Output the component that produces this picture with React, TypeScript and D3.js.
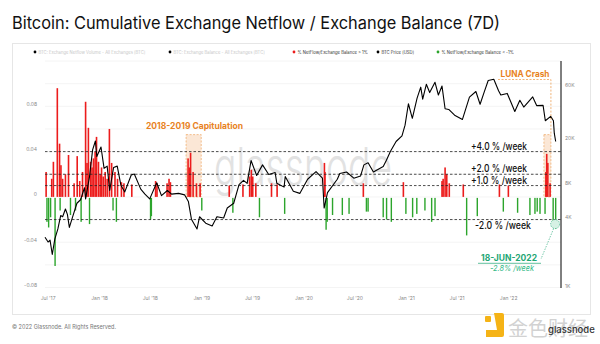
import React from 'react';
import * as d3 from 'd3';

const W = 600, H = 344;

const leftTicks = [-0.08, -0.04, 0, 0.04, 0.08];
const leftTickLabels = ['-0.08', '-0.04', '0', '0.04', '0.08'];
const gridValues = [-0.08, -0.06, -0.04, -0.02, 0, 0.02, 0.04, 0.06, 0.08, 0.1, 0.12];
const rightTicks = [1000, 4000, 8000, 20000, 60000];
const rightTickLabels = ['1K', '4K', '8K', '20K', '60K'];
const xTickDates = ['2017-07-01', '2018-01-01', '2018-07-01', '2019-01-01', '2019-07-01', '2020-01-01', '2020-07-01', '2021-01-01', '2021-07-01', '2022-01-01'];
const xTickLabels = ["Jul '17", "Jan '18", "Jul '18", "Jan '19", "Jul '19", "Jan '20", "Jul '20", "Jan '21", "Jul '21", "Jan '22"];

const thresholds = [0.04, 0.02, 0.01, -0.02];
const thresholdLabels = ['+4.0 % /week', '+2.0 % /week', '+1.0 % /week', '-2.0 % /week'];

const redDates = [
  '2017-06-24', '2017-07-14', '2017-07-20', '2017-08-03', '2017-08-11', '2017-08-16', '2017-08-22', '2017-09-01', '2017-09-12',
  '2017-10-02', '2017-10-13', '2017-10-22', '2017-11-01', '2017-11-12', '2017-11-17', '2017-11-22', '2017-11-30', '2017-12-05', '2017-12-10',
  '2017-12-16', '2017-12-21', '2017-12-28', '2018-01-03', '2018-01-08', '2018-01-14', '2018-01-21', '2018-01-28', '2018-02-05', '2018-02-13',
  '2018-02-25', '2018-03-06', '2018-03-20', '2018-03-29', '2018-04-26', '2018-07-20', '2018-07-25', '2018-08-30', '2018-09-06', '2018-09-11',
  '2018-11-13', '2018-11-18', '2018-11-22', '2018-12-01', '2018-12-13', '2018-12-26',
  '2019-04-09', '2019-05-28', '2019-06-21', '2019-06-27', '2019-07-02', '2019-07-13', '2019-09-07', '2019-09-27',
  '2020-03-14', '2020-03-16', '2020-07-31', '2020-12-21',
  '2021-05-08', '2021-05-12', '2021-05-19', '2021-05-25', '2021-06-03', '2021-07-23', '2021-11-29', '2021-12-31',
  '2022-05-14', '2022-05-17', '2022-05-21', '2022-05-29',
];
const redValues = [
  0.022, 0.016, 0.031, 0.096, 0.047, 0.028, 0.016, 0.02, 0.037,
  0.012, 0.036, 0.014, 0.022, 0.084, 0.03, 0.061, 0.031, 0.026, 0.034,
  0.04, 0.053, 0.031, 0.02, 0.026, 0.018, 0.022, 0.016, 0.06, 0.03,
  0.022, 0.016, 0.013, 0.012, 0.011, 0.014, 0.012, 0.012, 0.016, 0.013,
  0.034, 0.026, 0.039, 0.022, 0.012, 0.012,
  0.01, 0.011, 0.018, 0.024, 0.018, 0.012, 0.012, 0.011,
  0.03, 0.022, 0.012, 0.013,
  0.014, 0.016, 0.026, 0.02, 0.012, 0.011, 0.011, 0.01,
  0.022, 0.038, 0.03, 0.012,
];

const greenDates = [
  '2017-06-27', '2017-07-03', '2017-07-10', '2017-07-26', '2017-08-13', '2017-09-19', '2017-10-07', '2017-10-27', '2017-11-26',
  '2018-02-18', '2018-03-02', '2018-07-02', '2018-07-05', '2019-01-01',
  '2019-04-22', '2019-07-26', '2019-10-24', '2020-03-20', '2020-03-24', '2020-04-12', '2020-05-17', '2020-06-10', '2020-08-11', '2020-08-17',
  '2020-10-10', '2020-10-22', '2020-11-08', '2020-12-30', '2021-01-23', '2021-02-07', '2021-03-08', '2021-04-01', '2021-04-13',
  '2021-08-04', '2021-09-11', '2021-12-13', '2022-02-02', '2022-03-18', '2022-04-05', '2022-04-13', '2022-04-23', '2022-05-11',
  '2022-06-09', '2022-06-18',
];
const greenValues = [
  -0.022, -0.027, -0.018, -0.061, -0.012, -0.016, -0.012, -0.022, -0.024,
  -0.012, -0.022, -0.02, -0.017, -0.012,
  -0.014, -0.018, -0.015, -0.029, -0.022, -0.016, -0.016, -0.015, -0.013, -0.013,
  -0.018, -0.02, -0.022, -0.015, -0.018, -0.015, -0.012, -0.022, -0.017,
  -0.034, -0.017, -0.013, -0.014, -0.016, -0.015, -0.013, -0.015, -0.015,
  -0.022, -0.028,
];

const priceDates = [
  '2017-06-20', '2017-07-01', '2017-07-08', '2017-07-16', '2017-07-25', '2017-08-05', '2017-08-15', '2017-08-22', '2017-09-01', '2017-09-08', '2017-09-15',
  '2017-09-30', '2017-10-12', '2017-10-25', '2017-11-08', '2017-11-12', '2017-11-26', '2017-12-07', '2017-12-17', '2017-12-22', '2018-01-06',
  '2018-01-17', '2018-01-28', '2018-02-06', '2018-02-20', '2018-03-05', '2018-03-18', '2018-04-01', '2018-04-24', '2018-05-05', '2018-05-28',
  '2018-06-12', '2018-06-29', '2018-07-24', '2018-08-10', '2018-08-31', '2018-09-15', '2018-10-10', '2018-11-01', '2018-11-14', '2018-11-25',
  '2018-12-15', '2018-12-24', '2019-01-15', '2019-02-07', '2019-02-24', '2019-03-20', '2019-04-02', '2019-04-25', '2019-05-14', '2019-05-30',
  '2019-06-12', '2019-06-26', '2019-07-16', '2019-08-06', '2019-08-28', '2019-09-20', '2019-09-26', '2019-10-22', '2019-10-26', '2019-11-24',
  '2019-12-17', '2020-01-14', '2020-02-13', '2020-03-07', '2020-03-13', '2020-03-25', '2020-04-29', '2020-05-08', '2020-06-01', '2020-06-27',
  '2020-07-21', '2020-08-02', '2020-08-17', '2020-09-05', '2020-10-10', '2020-10-21', '2020-11-05', '2020-11-25', '2020-12-16', '2020-12-27',
  '2021-01-08', '2021-01-22', '2021-02-08', '2021-02-21', '2021-02-28', '2021-03-13', '2021-03-25', '2021-04-13', '2021-04-25', '2021-05-08',
  '2021-05-19', '2021-06-01', '2021-06-22', '2021-07-20', '2021-08-14', '2021-09-06', '2021-09-21', '2021-10-05', '2021-10-20', '2021-11-09',
  '2021-11-26', '2021-12-04', '2021-12-27', '2022-01-10', '2022-01-23', '2022-02-10', '2022-02-24', '2022-03-28', '2022-04-11', '2022-05-04',
  '2022-05-12', '2022-05-31', '2022-06-10', '2022-06-13', '2022-06-18',
];
const priceValues = [
  2700, 2450, 2550, 1900, 2600, 3200, 4200, 4100, 4800, 4300, 3300,
  4350, 5400, 5800, 7400, 5900, 9300, 16000, 19200, 14000, 17000,
  11000, 11500, 7000, 11200, 11500, 7800, 6800, 9600, 9800, 7200,
  6500, 5900, 8200, 6300, 7000, 6500, 6600, 6400, 5600, 3900,
  3200, 4100, 3600, 3400, 4100, 4000, 4900, 5400, 7900, 8600,
  8100, 12900, 9500, 11800, 9700, 10100, 8100, 7500, 9300, 6900,
  6600, 8800, 10300, 9000, 4900, 6700, 8800, 9900, 10200, 9000,
  9400, 11800, 12300, 10200, 11400, 12900, 15600, 19000, 21300, 26500,
  41000, 30500, 46000, 57500, 45000, 61000, 51500, 63500, 49000, 58800,
  37000, 36500, 32500, 29800, 47000, 52600, 40600, 51500, 65900, 67500,
  53500, 49000, 50600, 41800, 35000, 44000, 38300, 47100, 39500, 39700,
  29000, 31700, 29000, 22500, 19000,
];

const legendLabels = [
  'BTC: Exchange Netflow Volume - All Exchanges [BTC]',
  'BTC: Exchange Balance - All Exchanges [BTC]',
  '% NetFlow/Exchange Balance > 1%',
  'BTC Price [USD]',
  '% NetFlow/Exchange Balance < -1%',
];

const FONT = "Inter, 'Noto Sans', sans-serif";
const RED = '#ec1c1c';
const GREEN = '#2ca52c';
const ORANGE = '#e8821e';
const TEAL = '#1ea674';

export default function App() {
  const pd = (s: string) => new Date(s + 'T00:00:00Z');
  const x = d3.scaleUtc().domain([pd('2017-06-20'), pd('2022-07-07')]).range([45, 561]);
  const yL = d3.scaleLinear().domain([-0.08, 0.12]).range([287.5, 61]);
  const yR = d3.scaleLog().domain([1000, 100000]).range([286, 60]);
  const y0 = yL(0);

  const priceData = priceDates.map((d, i) => ({ date: pd(d), v: priceValues[i] }));
  const priceLine = d3.line<{ date: Date; v: number }>().x(d => x(d.date)).y(d => yR(d.v))(priceData) || '';

  const redBars = redDates.map((d, i) => ({ date: pd(d), v: redValues[i] }));
  const greenBars = greenDates.map((d, i) => ({ date: pd(d), v: greenValues[i] }));

  const capX0 = x(pd('2018-11-06')), capX1 = x(pd('2018-12-30'));
  const lunaX0 = x(pd('2022-05-07')), lunaX1 = x(pd('2022-06-01'));
  const circX = x(pd('2022-06-16')), circY = yL(-0.024);

  const legendX = [35, 170, 294, 378, 438];
  const legendColors = ['#000', '#000', RED, '#000', GREEN];
  const legendText = ['#c8c8c8', '#c8c8c8', '#333', '#333', '#333'];

  return (
    <svg width={W} height={H} style={{ position: 'absolute', left: 0, top: 0, background: '#fff' }} fontFamily={FONT}>
      <rect x={0} y={0} width={W} height={H} fill="#fff" />
      <text x={12} y={29} fontSize={17} fill="#111" textLength={488} lengthAdjust="spacingAndGlyphs">Bitcoin: Cumulative Exchange Netflow / Exchange Balance (7D)</text>
      <rect x={12.5} y={43.5} width={578} height={271} fill="none" stroke="#e6e6e6" strokeWidth={1} />

      {legendLabels.map((l, i) => (
        <g key={l}>
          <circle cx={legendX[i]} cy={52} r={1.4} fill={legendColors[i]} />
          <text x={legendX[i] + 3.5} y={53.5} fontSize={4.2} fill={legendText[i]}>{l}</text>
        </g>
      ))}

      {gridValues.map(v => (
        <line key={v} x1={45} x2={561} y1={yL(v)} y2={yL(v)} stroke="#f1f1f1" strokeWidth={0.8} />
      ))}

      <text x={303} y={185} fontSize={52} fill="#e2e2e2" textAnchor="middle" textLength={178} lengthAdjust="spacingAndGlyphs" fontWeight={300}>glassnode</text>

      <rect x={capX0} y={yL(0.055)} width={capX1 - capX0} height={y0 - yL(0.055)} fill="#fbe2cd" opacity={0.8} stroke={ORANGE} strokeWidth={0.6} strokeDasharray="2,1.5" />
      <rect x={lunaX0} y={yL(0.055)} width={lunaX1 - lunaX0} height={y0 - yL(0.055)} fill="#fbe2cd" opacity={0.8} stroke={ORANGE} strokeWidth={0.6} strokeDasharray="2,1.5" />

      {redBars.map((b, i) => (
        <rect key={'r' + i} x={x(b.date) - 0.8} y={yL(b.v)} width={1.6} height={y0 - yL(b.v)} fill={RED} />
      ))}
      {greenBars.map((b, i) => (
        <rect key={'g' + i} x={x(b.date) - 0.7} y={y0 + 1} width={1.4} height={yL(b.v) - y0 - 1} fill={GREEN} />
      ))}

      {thresholds.map(t => (
        <line key={t} x1={45} x2={561} y1={yL(t)} y2={yL(t)} stroke="#222" strokeWidth={0.8} strokeDasharray="2.5,2" />
      ))}

      <path d={priceLine} fill="none" stroke="#000" strokeWidth={1.1} strokeLinejoin="round" />

      <line x1={561} x2={561} y1={61} y2={288} stroke="#000" strokeWidth={1} />

      {leftTicks.map((t, i) => (
        <text key={t} x={37} y={yL(t) - 0.5} fontSize={5} fill="#888" textAnchor="end">{leftTickLabels[i]}</text>
      ))}
      {rightTicks.map((t, i) => (
        <text key={t} x={565} y={yR(t) + 1.5} fontSize={5} fill="#888">{rightTickLabels[i]}</text>
      ))}
      {xTickDates.map((d, i) => (
        <text key={d} x={x(pd(d))} y={300} fontSize={5} fill="#888" textAnchor="middle">{xTickLabels[i]}</text>
      ))}

      {thresholds.map((t, i) => (
        <text key={'tl' + t} x={t < 0 ? 475 : 471} y={t < 0 ? yL(t) + 9 : yL(t) - 2} fontSize={10} fill="#111" fontWeight={500} textLength={56} lengthAdjust="spacingAndGlyphs">{thresholdLabels[i]}</text>
      ))}

      <text x={146} y={129} fontSize={9} fontWeight={700} fill={ORANGE} textLength={97} lengthAdjust="spacingAndGlyphs">2018-2019 Capitulation</text>
      <text x={500.5} y={77} fontSize={9} fontWeight={700} fill={ORANGE} textLength={49} lengthAdjust="spacingAndGlyphs">LUNA Crash</text>
      <path d={`M${498},${79.5} H${lunaX1} V${yL(0.055)}`} fill="none" stroke={ORANGE} strokeWidth={0.6} strokeDasharray="2,1.5" />

      <circle cx={circX} cy={circY} r={4.5} fill="#d6f1e4" stroke={TEAL} strokeWidth={0.6} strokeDasharray="1.5,1.2" />
      <line x1={circX - 1.5} y1={circY + 4.5} x2={541} y2={259} stroke={TEAL} strokeWidth={0.6} strokeDasharray="1.5,1.2" />
      <text x={481} y={260.5} fontSize={8.5} fontWeight={700} fill={TEAL} textLength={56} lengthAdjust="spacingAndGlyphs">18-JUN-2022</text>
      <line x1={478} x2={541} y1={263.3} y2={263.3} stroke={TEAL} strokeWidth={0.7} />
      <text x={490} y={271} fontSize={8} fontStyle="italic" fill="#2fb885" textLength={44} lengthAdjust="spacingAndGlyphs">-2.8% /week</text>

      <text x={12} y={329} fontSize={5.5} fill="#777">© 2022 Glassnode. All Rights Reserved.</text>

      <rect x={485} y={316} width={6} height={6} rx={1} fill="#f5b316" />
      <path d="M494,313 h8 a2,2 0 0 1 2,2 v20 a2,2 0 0 1 -2,2 h-16 v-7 h11 z" fill="#f5b316" />
      <text x={508} y={336} fontSize={20} fill="#d2d2d2" fontFamily="'Noto Sans CJK SC', sans-serif">金色财经</text>
      <text x={548} y={333} fontSize={9.5} fill="#333" fontWeight={500}>glassnode</text>
    </svg>
  );
}
